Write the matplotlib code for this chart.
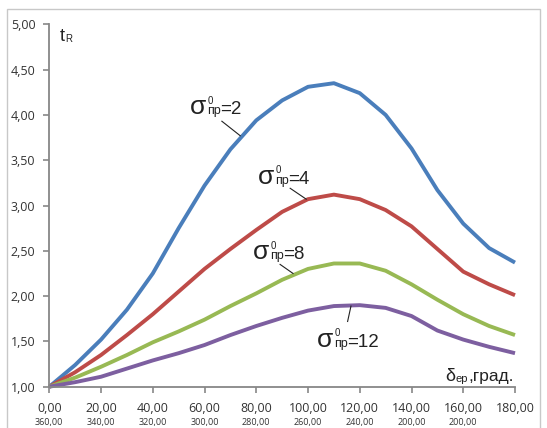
import numpy as np
import matplotlib
matplotlib.use("Agg")
import matplotlib.pyplot as plt
from matplotlib.patches import Rectangle

# angle, degrees
delta = [0, 10, 20, 30, 40, 50, 60, 70, 80, 90, 100, 110, 120, 130, 140, 150, 160, 170, 180]

# t_R for sigma0_pr = 2, 4, 8, 12
t_s2 = [1.00, 1.24, 1.52, 1.85, 2.25, 2.75, 3.22, 3.62, 3.94, 4.16, 4.31, 4.35, 4.24, 4.00, 3.63, 3.17, 2.80, 2.53, 2.37]
t_s4 = [1.00, 1.16, 1.35, 1.57, 1.80, 2.05, 2.30, 2.52, 2.73, 2.93, 3.07, 3.12, 3.07, 2.95, 2.77, 2.52, 2.27, 2.13, 2.01]
t_s8 = [1.00, 1.10, 1.22, 1.35, 1.49, 1.61, 1.74, 1.89, 2.03, 2.18, 2.30, 2.36, 2.36, 2.28, 2.13, 1.96, 1.80, 1.67, 1.57]
t_s12 = [1.00, 1.05, 1.11, 1.20, 1.29, 1.37, 1.46, 1.57, 1.67, 1.76, 1.84, 1.89, 1.90, 1.87, 1.78, 1.62, 1.52, 1.44, 1.37]

xticks = [0, 20, 40, 60, 80, 100, 120, 140, 160, 180]
xlabels = ["0,00", "20,00", "40,00", "60,00", "80,00", "100,00", "120,00", "140,00", "160,00", "180,00"]
xlabels2 = ["360,00", "340,00", "320,00", "300,00", "280,00", "260,00", "240,00", "200,00", "200,00", ""]
yticks = [1.0, 1.5, 2.0, 2.5, 3.0, 3.5, 4.0, 4.5, 5.0]
ylabels = ["1,00", "1,50", "2,00", "2,50", "3,00", "3,50", "4,00", "4,50", "5,00"]

colors = ["#4a7ebb", "#be4b48", "#98b954", "#7d5fa0"]
ink = "#222222"

fig = plt.figure(figsize=(5.47, 4.28), dpi=100)
fig.patches.append(Rectangle((7 / 547, -0.1), 533 / 547, 1.1 - 9 / 428, transform=fig.transFigure,
                             fill=False, edgecolor="#c8c8c8", linewidth=1.0))
ax = fig.add_axes([49.3 / 547, (428 - 386.7) / 428, (515 - 49.3) / 547, (386.7 - 24.3) / 428])

for ys, c in zip([t_s2, t_s4, t_s8, t_s12], colors):
    ax.plot(delta, ys, color=c, linewidth=2.8, solid_capstyle="butt",
            solid_joinstyle="round", clip_on=False)

ax.set_xlim(0, 180)
ax.set_ylim(1, 5)
for s in ["top", "right"]:
    ax.spines[s].set_visible(False)
for s in ["left", "bottom"]:
    ax.spines[s].set_color("#878787")
    ax.spines[s].set_linewidth(1.3)

ax.set_xticks(xticks)
ax.set_xticklabels(xlabels, fontsize=9, family="Open Sans", color="#333333")
ax.set_yticks(yticks)
ax.set_yticklabels(ylabels, fontsize=9, family="Open Sans", color="#333333")
ax.tick_params(axis="x", length=4, width=1.2, color="#878787", pad=7)
ax.tick_params(axis="y", length=4, width=1.2, color="#878787", pad=6)

for x, lab in zip(xticks, xlabels2):
    ax.text(x, -0.099, lab, transform=ax.get_xaxis_transform(), ha="center", va="center",
            fontsize=6.5, family="Open Sans", color="#333333")

# axis captions
ax.annotate("t", (4.0, 4.82), fontsize=13, family="Liberation Sans", color=ink, va="baseline")
ax.annotate("R", (4.0, 4.82), xytext=(4.2, -1), textcoords="offset points",
            fontsize=7, family="Liberation Sans", color=ink, va="baseline")
ax.annotate("δ", (153.0, 1.063), fontsize=13, family="Liberation Sans", color=ink, va="baseline")
ax.annotate("ер", (153.0, 1.063), xytext=(7.6, -1), textcoords="offset points",
            fontsize=8, family="Liberation Sans", color=ink, va="baseline")
ax.annotate(",град.", (153.0, 1.063), xytext=(16.4, 0), textcoords="offset points",
            fontsize=12.5, family="Liberation Sans", color=ink, va="baseline")

# curve labels: (value, sigma left-baseline x, y, leader start, leader end)
labels = [("=2", 54.4, 4.01, (66.7, 3.93), (73.8, 3.77)),
          ("=4", 80.8, 3.24, (93.1, 3.19), (99.3, 3.07)),
          ("=8", 78.8, 2.41, (89.2, 2.35), (94.2, 2.25)),
          ("=12", 103.6, 1.44, (115.3, 1.72), (116.6, 1.89))]
for val, tx, ty, p0, p1 in labels:
    ax.annotate("σ", (tx, ty), fontsize=19, family="Liberation Sans", color=ink, va="baseline")
    ax.annotate("0", (tx, ty), xytext=(12.4, 7.5), textcoords="offset points",
                fontsize=7, family="Liberation Sans", color=ink, va="baseline")
    ax.annotate("пр", (tx, ty), xytext=(12.0, 0), textcoords="offset points",
                fontsize=9, family="Liberation Sans", color=ink, va="baseline")
    ax.annotate(val, (tx, ty), xytext=(21.6, 0), textcoords="offset points",
                fontsize=13.5, family="Liberation Sans", color=ink, va="baseline")
    ax.plot([p0[0], p1[0]], [p0[1], p1[1]], color=ink, linewidth=0.8)

fig.savefig("out.png", dpi=100)
